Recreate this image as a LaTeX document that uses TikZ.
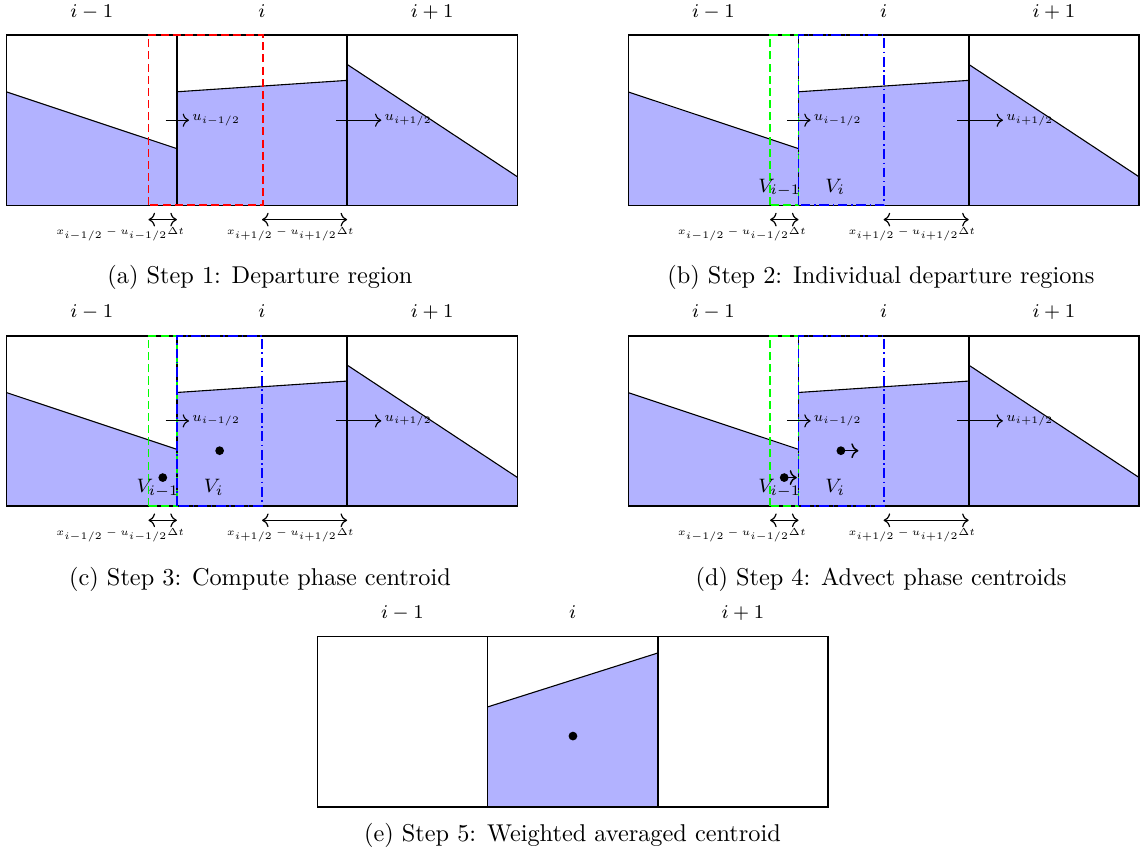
\documentclass[tikz,border=0pt]{standalone}
\usetikzlibrary{arrows.meta}
\tikzset{
  cellfill/.style={fill=blue!30},
  gridline/.style={line width=0.65pt, black},
  slopeline/.style={line width=0.45pt, black},
  collabel/.style={font=\footnotesize, anchor=base, inner sep=0pt},
  ulabel/.style={font=\scriptsize, anchor=west, inner sep=1.5pt, scale=0.82, transform shape},
  dxlabel/.style={font=\tiny, inner sep=0pt, scale=0.83, transform shape},
  vlabel/.style={font=\footnotesize, inner sep=0pt, anchor=base},
  uarrow/.style={->, line width=0.45pt},
  dxarrow/.style={<->, line width=0.5pt},
  redbox/.style={draw=red, line width=0.8pt, dash pattern=on 3.3pt off 1.7pt},
  greenbox/.style={draw=green, line width=0.8pt, dash pattern=on 3.3pt off 1.7pt},
  bluebox/.style={draw=blue, line width=0.8pt, dash pattern=on 4pt off 1.5pt on 0.6pt off 1.5pt},
  dotnode/.style={circle, fill=black, inner sep=0pt, minimum size=3.6pt},
  capt/.style={font=\normalsize, anchor=base, inner sep=0pt},
}
\newcommand\stdfill{%
  \fill[cellfill] (0,0) -- (0,0.666) -- (1,0.333) -- (1,0) -- cycle;
  \fill[cellfill] (1,0) -- (1,0.667) -- (2,0.734) -- (2,0) -- cycle;
  \fill[cellfill] (2,0) -- (2,0.828) -- (3,0.168) -- (3,0) -- cycle;
  \draw[slopeline] (0,0.666) -- (1,0.333);
  \draw[slopeline] (1,0.667) -- (2,0.734);
  \draw[slopeline] (2,0.828) -- (3,0.168);
}
\newcommand\gridcells[1]{%
  \draw[gridline] (0,0) rectangle (3,1);
  \draw[gridline] (1,0) -- (1,1);
  \draw[gridline] (2,0) -- (2,1);
  \node[collabel] (#1cl1) at (0.5,1.105) {$i-1$};
  \node[collabel] (#1cl2) at (1.5,1.105) {$i$};
  \node[collabel] (#1cl3) at (2.5,1.105) {$i+1$};
}
\newcommand\velarrows[1]{%
  \coordinate (#1ua) at (0.934,0.5);
  \coordinate (#1ub) at (1.071,0.5);
  \coordinate (#1uc) at (1.934,0.5);
  \coordinate (#1ud) at (2.201,0.5);
  \draw[uarrow] (#1ua) -- (#1ub);
  \draw[uarrow] (#1uc) -- (#1ud);
  \node[ulabel] (#1ul1) at (#1ub) {$u_{i-1/2}$};
  \node[ulabel] (#1ul2) at (#1ud) {$u_{i+1/2}$};
}
\newcommand\deparrows[1]{%
  \coordinate (#1da) at (0.833,-0.084);
  \coordinate (#1db) at (1.0,-0.084);
  \coordinate (#1dc) at (1.5,-0.084);
  \coordinate (#1dd) at (2.0,-0.084);
  \draw[dxarrow] (#1da) -- (#1db);
  \draw[dxarrow] (#1dc) -- (#1dd);
  \node[dxlabel] (#1dl1) at (0.667,-0.172) {$x_{i-1/2} - u_{i-1/2}\Delta t$};
  \node[dxlabel] (#1dl2) at (1.666,-0.172) {$x_{i+1/2} - u_{i+1/2}\Delta t$};
}
\newcommand\phaseboxes[1]{%
  \draw[greenbox] (0.833,0) rectangle (1.0,1);
  \draw[bluebox] (1.0,0) rectangle (1.5,1);
  \node[vlabel] (#1v1) at (0.889,0.078) {$V_{i-1}$};
  \node[vlabel] (#1v2) at (1.216,0.078) {$V_i$};
}
\begin{document}
\begin{tikzpicture}[x=0.4115pt, y=-0.4115pt]
\useasboundingbox (0,0) rectangle (1143,854);
% (a)
\begin{scope}[shift={(6.7,205.3)}, x=70.04pt, y=70.04pt]
  \stdfill
  \gridcells{a}
  \draw[redbox] (0.833,0) rectangle (1.504,1);
  \velarrows{a}
  \deparrows{a}
\end{scope}
\node[capt] (capa) at (260,283.5) {(a) Step 1: Departure region};
% (b)
\begin{scope}[shift={(628.3,205.3)}, x=70.04pt, y=70.04pt]
  \stdfill
  \gridcells{b}
  \phaseboxes{b}
  \velarrows{b}
  \deparrows{b}
\end{scope}
\node[capt] (capb) at (881,283.5) {(b) Step 2: Individual departure regions};
% (c)
\begin{scope}[shift={(6.7,506)}, x=70.04pt, y=70.04pt]
  \stdfill
  \gridcells{c}
  \phaseboxes{c}
  \velarrows{c}
  \deparrows{c}
  \node[dotnode] (cdot1) at (0.917,0.167) {};
  \node[dotnode] (cdot2) at (1.251,0.325) {};
\end{scope}
\node[capt] (capc) at (260,585.5) {(c) Step 3: Compute phase centroid};
% (d)
\begin{scope}[shift={(628.3,506)}, x=70.04pt, y=70.04pt]
  \stdfill
  \gridcells{d}
  \phaseboxes{d}
  \velarrows{d}
  \deparrows{d}
  \node[dotnode] (ddot1) at (0.916,0.167) {};
  \node[dotnode] (ddot2) at (1.249,0.325) {};
  \coordinate (ddot1e) at (0.99,0.167);
  \coordinate (ddot2e) at (1.352,0.325);
  \draw[uarrow, line width=0.6pt] (ddot1.center) -- (ddot1e);
  \draw[uarrow, line width=0.6pt] (ddot2.center) -- (ddot2e);
\end{scope}
\node[capt] (capd) at (881,585.5) {(d) Step 4: Advect phase centroids};
% (e)
\begin{scope}[shift={(317.3,806.7)}, x=70.04pt, y=70.04pt]
  \fill[cellfill] (1,0) -- (1,0.586) -- (2,0.903) -- (2,0) -- cycle;
  \draw[slopeline] (1,0.586) -- (2,0.903);
  \gridcells{e}
  \node[dotnode] (edot) at (1.502,0.415) {};
\end{scope}
\node[capt] (cape) at (572.5,841) {(e) Step 5: Weighted averaged centroid};
\end{tikzpicture}
\end{document}
